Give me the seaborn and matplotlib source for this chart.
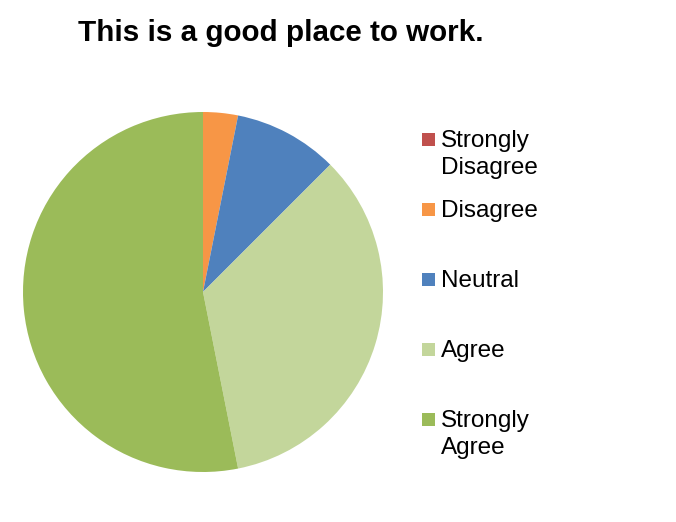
import matplotlib
matplotlib.use("Agg")
import matplotlib.pyplot as plt
from matplotlib.patches import Rectangle
import seaborn as sns

# survey responses
categories = ["Strongly\nDisagree", "Disagree", "Neutral", "Agree", "Strongly\nAgree"]
counts = [0, 1, 3, 11, 17]
colors = ["#C0504D", "#F79646", "#4F81BD", "#C3D69B", "#9BBB59"]
title = "This is a good place to work."

sns.set_theme(style="white")
plt.rcParams["font.family"] = ["Liberation Sans", "DejaVu Sans"]

W, H = 676, 522
fig = plt.figure(figsize=(W / 100, H / 100), dpi=100)
fig.patch.set_facecolor("white")

# pie: centre (203, 292) px, radius 180 px
ax = fig.add_axes([23 / W, (H - 472) / H, 360 / W, 360 / H])
ax.pie(counts, colors=sns.color_palette(colors), startangle=90, counterclock=False,
       radius=1, wedgeprops={"linewidth": 0})
ax.set_xlim(-1, 1)
ax.set_ylim(-1, 1)
ax.set_aspect("equal")
ax.axis("off")

fig.text(78 / W, 1 - 33 / H, title, fontsize=21.3, fontweight="bold",
         ha="left", va="center", color="black")

# legend, Excel-like fixed slots
slot_y = [139, 209, 279, 349, 419]
for lab, col, yc in zip(categories, colors, slot_y):
    fig.add_artist(Rectangle((422 / W, 1 - (yc + 6.5) / H), 13 / W, 13 / H,
                             transform=fig.transFigure, facecolor=col, edgecolor="none"))
    fig.text(441 / W, 1 - (yc - 9) / H, lab, fontsize=17.5, ha="left", va="top",
             linespacing=1.3, color="black")

fig.savefig("out.png", dpi=100, facecolor="white")
